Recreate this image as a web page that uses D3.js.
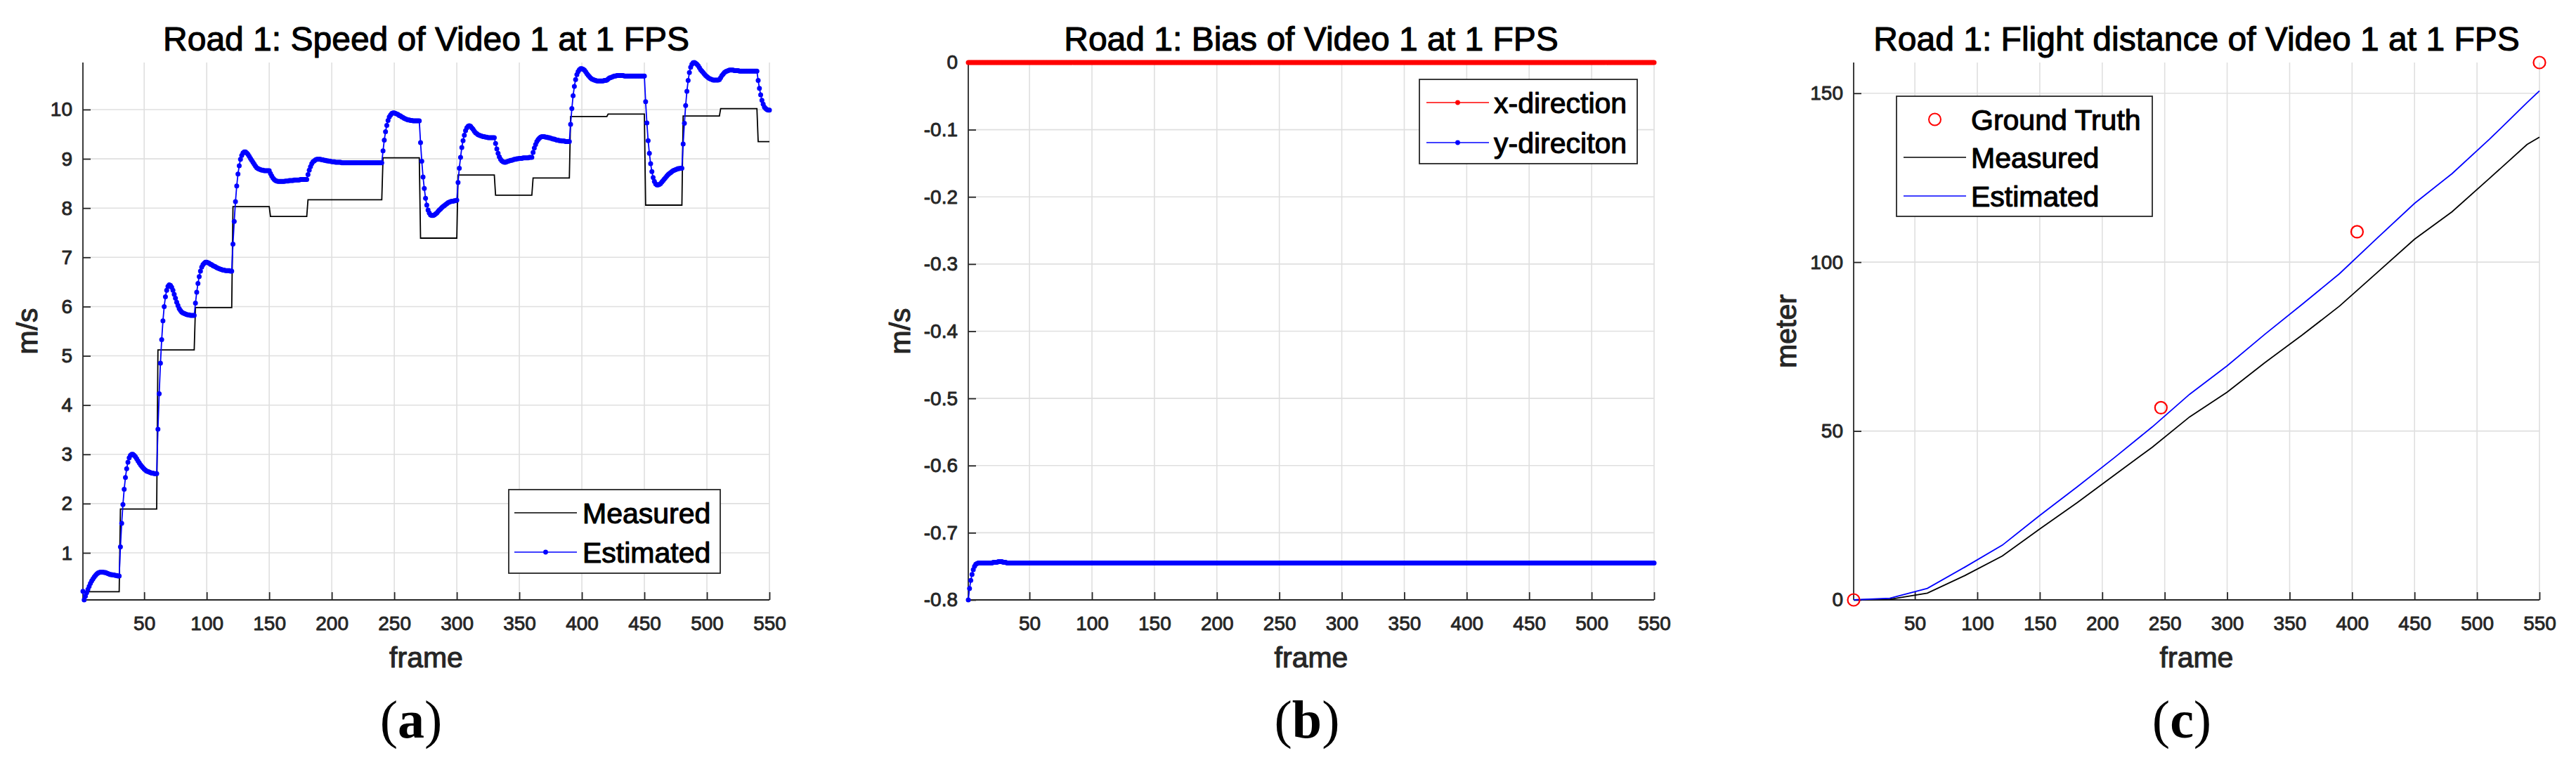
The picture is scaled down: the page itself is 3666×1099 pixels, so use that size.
<!DOCTYPE html>
<html><head><meta charset="utf-8">
<script src="https://cdn.jsdelivr.net/npm/d3@7"></script>
<style>
body{margin:0;background:#fff}
svg text{font-family:"Liberation Sans",Arial,Helvetica,sans-serif}
</style>
</head><body>
<svg id="chart" width="3666" height="1099"></svg>
<script>
// ---------- DATA ----------
const frameTicks = [50,100,150,200,250,300,350,400,450,500,550];
const speedTicks = [1,2,3,4,5,6,7,8,9,10];
const biasTicks = [0,-0.1,-0.2,-0.3,-0.4,-0.5,-0.6,-0.7,-0.8];
const distTicks = [0,50,100,150];

// Panel (a): measured speed as runs [value, number of frames]
const measuredSpeedRuns = [[0.21,30],[1.89,30],[5.12,30],[5.98,30],[8.03,30],[7.83,30],[8.17,60],
  [9.02,30],[7.39,30],[8.67,30],[8.26,30],[8.61,30],[9.86,30],[9.91,30],[8.06,30],[9.87,30],[10.02,30],[9.35,10]];

// Panel (a): estimated speed, one value per frame (1..550)
const estimatedSpeed = [
0.22,0.045,0.12,0.19,0.26,0.32,0.38,0.43,0.47,0.51,
0.54,0.57,0.59,0.60,0.61,0.61,0.61,0.60,0.60,0.59,
0.58,0.57,0.56,0.56,0.55,0.55,0.54,0.54,0.53,0.53,
1.12,1.60,1.98,2.29,2.53,2.71,2.84,2.93,2.98,3.00,
3.00,2.98,2.95,2.91,2.87,2.83,2.79,2.76,2.73,2.70,
2.68,2.66,2.65,2.64,2.63,2.62,2.62,2.61,2.61,2.61,
3.51,4.23,4.85,5.33,5.71,6.00,6.20,6.33,6.41,6.44,
6.43,6.39,6.33,6.25,6.17,6.09,6.02,5.96,5.92,5.89,
5.87,5.86,5.85,5.84,5.83,5.83,5.82,5.82,5.82,5.82,
6.07,6.29,6.47,6.61,6.72,6.80,6.85,6.88,6.90,6.90,
6.89,6.88,6.86,6.85,6.83,6.82,6.81,6.79,6.78,6.77,
6.76,6.75,6.74,6.74,6.73,6.73,6.73,6.73,6.72,6.72,
7.27,7.73,8.13,8.45,8.69,8.86,8.99,9.07,9.12,9.14,
9.14,9.12,9.09,9.05,9.01,8.97,8.93,8.89,8.85,8.82,
8.80,8.79,8.78,8.77,8.77,8.76,8.76,8.76,8.76,8.76,
8.70,8.65,8.61,8.58,8.56,8.55,8.54,8.54,8.54,8.54,
8.54,8.54,8.55,8.55,8.55,8.56,8.56,8.56,8.56,8.57,
8.57,8.57,8.57,8.57,8.58,8.58,8.58,8.58,8.58,8.58,
8.68,8.77,8.84,8.90,8.94,8.96,8.98,8.99,8.99,8.99,
8.99,8.98,8.98,8.97,8.97,8.96,8.96,8.95,8.95,8.94,
8.94,8.94,8.93,8.93,8.93,8.93,8.93,8.92,8.92,8.92,
8.92,8.92,8.92,8.92,8.92,8.92,8.92,8.92,8.92,8.92,
8.92,8.92,8.92,8.92,8.92,8.92,8.92,8.92,8.92,8.92,
8.92,8.92,8.92,8.92,8.92,8.92,8.92,8.92,8.92,8.92,
9.16,9.38,9.55,9.68,9.78,9.85,9.89,9.92,9.93,9.93,
9.92,9.91,9.90,9.88,9.87,9.85,9.84,9.82,9.81,9.80,
9.79,9.79,9.78,9.78,9.77,9.77,9.77,9.77,9.77,9.77,
9.33,8.95,8.63,8.40,8.20,8.06,7.96,7.90,7.86,7.85,
7.85,7.86,7.88,7.90,7.93,7.96,7.98,8.01,8.03,8.05,
8.07,8.09,8.11,8.12,8.13,8.14,8.14,8.15,8.15,8.16,
8.52,8.81,9.03,9.23,9.37,9.48,9.57,9.63,9.66,9.67,
9.66,9.63,9.60,9.56,9.53,9.51,9.49,9.48,9.47,9.46,
9.45,9.45,9.44,9.44,9.43,9.43,9.43,9.43,9.43,9.43,
9.31,9.20,9.11,9.04,8.99,8.96,8.94,8.93,8.93,8.94,
8.95,8.96,8.97,8.97,8.98,8.99,8.99,9.00,9.00,9.01,
9.01,9.01,9.02,9.02,9.02,9.02,9.02,9.03,9.03,9.03,
9.13,9.22,9.29,9.35,9.39,9.42,9.44,9.45,9.45,9.45,
9.44,9.44,9.43,9.43,9.42,9.41,9.40,9.40,9.39,9.38,
9.38,9.37,9.37,9.36,9.36,9.36,9.35,9.35,9.35,9.35,
9.70,10.02,10.28,10.47,10.61,10.71,10.77,10.81,10.83,10.83,
10.82,10.80,10.77,10.73,10.70,10.67,10.64,10.62,10.61,10.60,
10.59,10.58,10.58,10.58,10.58,10.58,10.58,10.59,10.59,10.60,
10.62,10.64,10.65,10.66,10.67,10.68,10.68,10.69,10.69,10.69,
10.69,10.69,10.69,10.68,10.68,10.68,10.68,10.68,10.68,10.68,
10.68,10.68,10.68,10.68,10.68,10.68,10.68,10.68,10.68,10.68,
10.16,9.73,9.37,9.11,8.90,8.74,8.62,8.54,8.49,8.47,
8.47,8.48,8.50,8.53,8.56,8.59,8.62,8.65,8.68,8.70,
8.72,8.74,8.76,8.77,8.78,8.79,8.80,8.80,8.81,8.81,
9.30,9.72,10.08,10.37,10.59,10.75,10.86,10.92,10.95,10.955,
10.94,10.92,10.89,10.85,10.81,10.78,10.75,10.72,10.69,10.67,
10.65,10.63,10.62,10.61,10.60,10.60,10.60,10.60,10.60,10.61,
10.65,10.69,10.72,10.75,10.77,10.78,10.79,10.80,10.80,10.80,
10.80,10.79,10.79,10.79,10.79,10.78,10.78,10.78,10.78,10.78,
10.78,10.78,10.78,10.78,10.78,10.78,10.78,10.78,10.78,10.78,
10.59,10.43,10.30,10.19,10.11,10.05,10.02,10.00,9.99,9.99
];

// Panel (b): bias as runs [value, number of frames]
const biasXRuns = [[0,550]];
const biasYRuns = [[-0.8,1],[-0.783,1],[-0.771,1],[-0.762,1],[-0.755,1],[-0.75,1],[-0.747,1],[-0.746,1],
  [-0.745,12],[-0.744,4],[-0.743,4],[-0.744,3],[-0.745,519]];

// Panel (c): flight distance
const distFrames = [1,30,60,90,120,150,180,210,240,270,300,330,360,390,420,450,480,510,540,550];
const measuredDist = [0,0.2,2.0,7.2,13.0,21.0,28.8,37.0,45.2,54.2,61.5,70.2,78.4,87.0,96.9,106.8,114.9,124.8,134.8,137.0];
const estimatedDist = [0,0.5,3.4,9.7,16.2,25.0,33.5,42.2,51.2,60.9,69.3,78.6,87.5,96.6,107.1,117.4,126.2,136.4,147.2,150.7];
const gtFrames = [1,247,404,550];
const gtDist = [0,56.9,109.0,159.1];

// ---------- HELPERS ----------
function expandRuns(runs){
  const out=[]; let f=1;
  runs.forEach(([v,n])=>{ for(let i=0;i<n;i++){ out.push([f,v]); f++; } });
  return out;
}
const svg = d3.select("#chart");
const AX = "#262626", GRID = "#dfdfdf";
const TOP = 89, BOTTOM = 854;

function heavy(sel, color, w){
  sel.attr("stroke",color).attr("stroke-width",w).attr("stroke-linejoin","round").style("paint-order","stroke");
}

function panel(o){
  const g = svg.append("g");
  const x = d3.scaleLinear().domain([1,550]).range([o.left,o.right]);
  const y = d3.scaleLinear().domain(o.yDomain).range([BOTTOM,TOP]);
  // grid
  g.append("g").selectAll("line.v").data(frameTicks).join("line")
    .attr("x1",d=>x(d)).attr("x2",d=>x(d)).attr("y1",TOP).attr("y2",BOTTOM)
    .attr("stroke",GRID).attr("stroke-width",1.6);
  g.append("g").selectAll("line.h").data(o.yTicks).join("line")
    .attr("x1",o.left).attr("x2",o.right).attr("y1",d=>y(d)).attr("y2",d=>y(d))
    .attr("stroke",GRID).attr("stroke-width",1.6);
  // axes
  const xa = g.append("g").attr("transform",`translate(0,${BOTTOM})`)
    .call(d3.axisBottom(x).tickValues(frameTicks).tickSizeInner(-11).tickSizeOuter(0).tickPadding(23));
  const ya = g.append("g").attr("transform",`translate(${o.left},0)`)
    .call(d3.axisLeft(y).tickValues(o.yTicks).tickSizeInner(-11).tickSizeOuter(0).tickPadding(15).tickFormat(o.fmt||(d=>d)));
  [xa,ya].forEach(a=>{
    a.select(".domain").attr("stroke",AX).attr("stroke-width",1.8);
    a.selectAll(".tick line").attr("stroke",AX).attr("stroke-width",1.8);
    const t = a.selectAll(".tick text").attr("fill",AX).style("font-size","28px").style("font-family",'"Liberation Sans",Arial,sans-serif');
    heavy(t, AX, 0.9);
  });
  ya.select(".domain").attr("d",`M0,${TOP}V${BOTTOM}`);
  xa.select(".domain").attr("d",`M${o.left},0H${o.right}`);
  // titles
  heavy(g.append("text").attr("x",(o.left+o.right)/2).attr("y",71.5).attr("text-anchor","middle")
    .style("font-size","48px").attr("fill","#000").text(o.title), "#000", 1.1);
  heavy(g.append("text").attr("x",(o.left+o.right)/2).attr("y",950).attr("text-anchor","middle")
    .style("font-size","41px").attr("fill",AX).text("frame"), AX, 1.1);
  heavy(g.append("text").attr("transform",`translate(${o.ylabX},${(TOP+BOTTOM)/2}) rotate(-90)`).attr("text-anchor","middle")
    .style("font-size","41px").attr("fill",AX).text(o.ylab), AX, 1.1);
  g.append("text").attr("x",o.tagX).attr("y",1050).attr("text-anchor","middle")
    .style("font-family",'"Liberation Serif","Times New Roman",serif').style("font-size","76px")
    .html(o.tag);
  return {g,x,y};
}

function legend(g, box, items){
  g.append("rect").attr("x",box.x).attr("y",box.y).attr("width",box.w).attr("height",box.h)
    .attr("fill","#fff").attr("stroke","#262626").attr("stroke-width",1.8);
  items.forEach((it,i)=>{
    const cy = box.rows[i];
    if(it.line) g.append("line").attr("x1",box.l1).attr("x2",box.l2).attr("y1",cy).attr("y2",cy)
      .attr("stroke",it.color).attr("stroke-width",1.6);
    if(it.dot) g.append("circle").attr("cx",(box.l1+box.l2)/2).attr("cy",cy).attr("r",3.4).attr("fill",it.color);
    if(it.ring) g.append("circle").attr("cx",(box.l1+box.l2)/2).attr("cy",cy).attr("r",8.5)
      .attr("fill","none").attr("stroke",it.color).attr("stroke-width",2);
    heavy(g.append("text").attr("x",box.tx).attr("y",cy).attr("dy","0.36em").style("font-size","41px")
      .attr("fill","#000").text(it.label), "#000", 1.1);
  });
}

// ---------- PANEL A ----------
const estPts = estimatedSpeed.map((v,i)=>[i+1,v]);
const measPts = expandRuns(measuredSpeedRuns);
const ext = d3.extent(estimatedSpeed.concat(measPts.map(d=>d[1])));
const A = panel({left:118,right:1095,yDomain:ext,yTicks:speedTicks,
  title:"Road 1: Speed of Video 1 at 1 FPS",ylab:"m/s",ylabX:53,tagX:585,tag:"(<tspan font-weight='bold'>a</tspan>)"});
{
  const line = d3.line().x(d=>A.x(d[0])).y(d=>A.y(d[1]));
  A.g.append("path").attr("d",line(measPts)).attr("fill","none").attr("stroke","#000").attr("stroke-width",1.8);
  A.g.append("path").attr("d",line(estPts)).attr("fill","none").attr("stroke","#0000ff").attr("stroke-width",1.8);
  A.g.append("g").selectAll("circle").data(estPts).join("circle")
    .attr("cx",d=>A.x(d[0])).attr("cy",d=>A.y(d[1])).attr("r",3.5).attr("fill","#0000ff");
  legend(A.g,{x:724,y:697,w:301,h:119,rows:[730,786],l1:732,l2:821,tx:829},
    [{label:"Measured",color:"#000",line:true},{label:"Estimated",color:"#0000ff",line:true,dot:true}]);
}

// ---------- PANEL B ----------
const B = panel({left:1378,right:2354,yDomain:[-0.8,0],yTicks:biasTicks,fmt:d=>d===0?"0":String(d),
  title:"Road 1: Bias of Video 1 at 1 FPS",ylab:"m/s",ylabX:1295,tagX:1860,tag:"(<tspan font-weight='bold'>b</tspan>)"});
{
  const line = d3.line().x(d=>B.x(d[0])).y(d=>B.y(d[1]));
  [[biasYRuns,"#0000ff"],[biasXRuns,"#ff0000"]].forEach(([runs,c])=>{
    const pts = expandRuns(runs);
    B.g.append("path").attr("d",line(pts)).attr("fill","none").attr("stroke",c).attr("stroke-width",1.8);
    B.g.append("g").selectAll("circle").data(pts).join("circle")
      .attr("cx",d=>B.x(d[0])).attr("cy",d=>B.y(d[1])).attr("r",3.5).attr("fill",c);
  });
  legend(B.g,{x:2020,y:113,w:310,h:120,rows:[146,203],l1:2030,l2:2119,tx:2126},
    [{label:"x-direction",color:"#ff0000",line:true,dot:true},{label:"y-direciton",color:"#0000ff",line:true,dot:true}]);
}

// ---------- PANEL C ----------
const C = panel({left:2638,right:3614,yDomain:[0,d3.max(gtDist)],yTicks:distTicks,
  title:"Road 1: Flight distance of Video 1 at 1 FPS",ylab:"meter",ylabX:2556,tagX:3105,tag:"(<tspan font-weight='bold'>c</tspan>)"});
{
  const line = d3.line().x(d=>C.x(d[0])).y(d=>C.y(d[1]));
  C.g.append("path").attr("d",line(distFrames.map((f,i)=>[f,measuredDist[i]]))).attr("fill","none").attr("stroke","#000").attr("stroke-width",1.8);
  C.g.append("path").attr("d",line(distFrames.map((f,i)=>[f,estimatedDist[i]]))).attr("fill","none").attr("stroke","#0000ff").attr("stroke-width",1.8);
  C.g.append("g").selectAll("circle").data(gtFrames.map((f,i)=>[f,gtDist[i]])).join("circle")
    .attr("cx",d=>C.x(d[0])).attr("cy",d=>C.y(d[1])).attr("r",8.5).attr("fill","none").attr("stroke","#ff0000").attr("stroke-width",2.2);
  legend(C.g,{x:2699,y:137,w:364,h:171,rows:[170,224,279],l1:2709,l2:2798,tx:2805},
    [{label:"Ground Truth",color:"#ff0000",ring:true},{label:"Measured",color:"#000",line:true},{label:"Estimated",color:"#0000ff",line:true}]);
}
</script>
</body></html>
